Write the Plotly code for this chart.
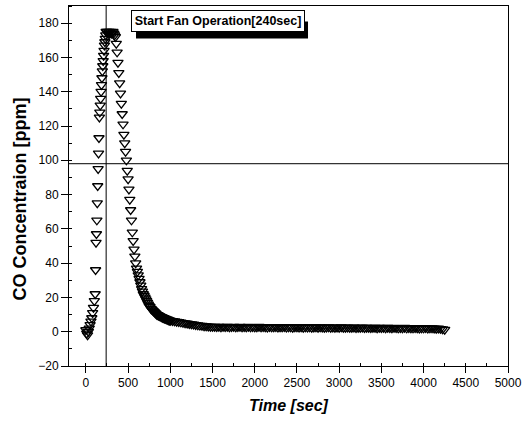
import plotly.graph_objects as go

# Rise phase (before fan operation)
rise_t = [0, 10, 20, 30, 40, 50, 60, 70, 80, 90, 100, 110, 115, 120, 125, 130, 135, 140,
          145, 150, 155, 160, 165, 170, 175, 180, 185, 190, 195, 200, 205, 210, 215, 220,
          225, 230, 235]
rise_v = [1, -1, -2, 0, 2, 4, 6, 8, 11, 14, 18, 22, 36, 52, 57, 65, 75, 85,
          95, 104, 113, 125, 128, 132, 136, 140, 144, 148, 152, 155, 158, 161, 164, 167,
          169, 171, 173]

# Hold at peak after fan start
hold_t = [240, 250, 260, 270, 280, 290, 300, 310, 320, 330]
hold_v = [175, 175, 174, 175, 174, 175, 174, 174, 175, 174]

# Decay phase (10 s steps)
decay_t = [340, 350, 360, 370, 380, 390, 400, 410, 420, 430, 440, 450, 460, 470, 480, 490,
           500, 510, 520, 530, 540, 550, 560, 570, 580, 590, 600, 610, 620, 630, 640, 650,
           660, 670, 680, 690, 700, 710, 720, 730, 740, 750, 760, 770, 780, 790, 800, 810,
           820, 830, 840, 850, 860, 870, 880, 890, 900, 910, 920, 930, 940, 950, 960, 970,
           980, 990, 1000]
decay_v = [173, 172, 168, 163, 157, 151, 145, 139, 133, 127, 121, 115, 110, 105, 100, 94,
           89, 83, 77, 71, 65, 58, 53, 48, 44, 40, 37, 35, 33, 31, 29, 27,
           25, 23.5, 22, 21, 20, 19, 18, 17, 16, 15, 14.5, 13.5, 13, 12.5, 12, 11.5,
           11, 10.5, 10, 9.8, 9.5, 9.2, 9, 8.7, 8.5, 8.2, 8, 7.8, 7.6, 7.4, 7.2, 7,
           6.8, 6.6, 6.5]

# Slow tail (25 s steps)
slow_t = [1025, 1050, 1075, 1100, 1125, 1150, 1175, 1200, 1225, 1250, 1275, 1300, 1325,
          1350, 1375, 1400, 1425, 1450, 1475, 1500]
slow_v = [6.3, 6.1, 5.9, 5.7, 5.5, 5.2, 5.0, 4.8, 4.6, 4.4, 4.2, 4.0, 3.8,
          3.6, 3.5, 3.3, 3.2, 3.1, 3.0, 2.9]

# Steady tail (25 s steps)
tail_t = [1525, 1550, 1575, 1600, 1625, 1650, 1675, 1700, 1725, 1750, 1775, 1800, 1825,
          1850, 1875, 1900, 1925, 1950, 1975, 2000, 2025, 2050, 2075, 2100, 2125, 2150,
          2175, 2200, 2225, 2250, 2275, 2300, 2325, 2350, 2375, 2400, 2425, 2450, 2475,
          2500, 2525, 2550, 2575, 2600, 2625, 2650, 2675, 2700, 2725, 2750, 2775, 2800,
          2825, 2850, 2875, 2900, 2925, 2950, 2975, 3000, 3025, 3050, 3075, 3100, 3125,
          3150, 3175, 3200, 3225, 3250, 3275, 3300, 3325, 3350, 3375, 3400, 3425, 3450,
          3475, 3500, 3525, 3550, 3575, 3600, 3625, 3650, 3675, 3700, 3725, 3750, 3775,
          3800, 3825, 3850, 3875, 3900, 3925, 3950, 3975, 4000, 4025, 4050, 4075, 4100,
          4125, 4150, 4175, 4200, 4225, 4250]
tail_v = [2.9, 2.8, 3.0, 2.7, 2.9, 2.8, 3.0, 2.7, 2.8, 2.9, 2.6, 2.8, 2.9,
          2.7, 2.8, 2.6, 2.9, 2.7, 2.8, 2.6, 2.7, 2.9, 2.6, 2.8, 2.7, 2.5,
          2.8, 2.6, 2.7, 2.8, 2.5, 2.7, 2.6, 2.8, 2.5, 2.7, 2.6, 2.4, 2.7,
          2.6, 2.5, 2.7, 2.4, 2.6, 2.5, 2.7, 2.4, 2.5, 2.6, 2.4, 2.6, 2.5,
          2.3, 2.5, 2.6, 2.4, 2.5, 2.3, 2.5, 2.4, 2.6, 2.3, 2.4, 2.5, 2.3,
          2.4, 2.5, 2.2, 2.4, 2.3, 2.5, 2.2, 2.4, 2.3, 2.2, 2.4, 2.3, 2.1,
          2.3, 2.2, 2.4, 2.1, 2.3, 2.2, 2.1, 2.3, 2.2, 2.0, 2.2, 2.1, 2.3,
          2.0, 2.2, 2.1, 2.0, 2.2, 2.1, 1.9, 2.1, 2.0, 2.2, 1.9, 2.0, 2.1,
          1.9, 1.8, 1.9, 1.7, 1.5, 1.2]

t = rise_t + hold_t + decay_t + slow_t + tail_t
v = rise_v + hold_v + decay_v + slow_v + tail_v

fan_start = 240
ref_level = 98

x_ticks = list(range(0, 5001, 500))
y_ticks = list(range(-20, 181, 20))

fig = go.Figure()
fig.add_trace(go.Scatter(
    x=t, y=v, mode="markers",
    marker=dict(symbol="triangle-down-open", size=9, color="black",
                line=dict(width=1.3, color="black")),
    showlegend=False,
))

fig.add_vline(x=fan_start, line=dict(color="black", width=1))
fig.add_hline(y=ref_level, line=dict(color="black", width=1))

label = "<b>Start Fan Operation[240sec]</b>"
ann_x, ann_y = 1565, 181

# drop shadow of the label box
fig.add_shape(type="rect", xref="x", yref="y", xsizemode="pixel", ysizemode="pixel",
              xanchor=ann_x, yanchor=ann_y, x0=-82, x1=90, y0=-17, y1=0,
              fillcolor="black", line=dict(width=0), layer="above")
fig.add_annotation(x=ann_x, y=ann_y, text=label, showarrow=False,
                   font=dict(family="Liberation Sans", size=12.5, color="black"),
                   width=168, height=16,
                   bgcolor="white", bordercolor="black", borderwidth=1, borderpad=2)

# y-axis title (placed as rotated text, slightly below centre as in the original)
fig.add_annotation(xref="paper", yref="paper", x=-0.112, y=0.465,
                   text="<b>CO Concentraion [ppm]</b>", textangle=-90, showarrow=False,
                   font=dict(family="Liberation Sans", size=18, color="black"),
                   xanchor="center", yanchor="middle")

axis_common = dict(showline=True, mirror=True, linecolor="black", linewidth=1,
                   showgrid=False, zeroline=False,
                   tickfont=dict(family="Liberation Sans", size=12, color="black"),
                   ticks="outside", tickcolor="black")

fig.update_xaxes(range=[-200, 5000], tickvals=x_ticks, ticklen=6,
                 title=dict(text="<b><i>Time [sec]</i></b>", standoff=10,
                            font=dict(family="Liberation Sans", size=16, color="black")),
                 minor=dict(dtick=250, ticks="inside", ticklen=3, tickcolor="black"),
                 **axis_common)
fig.update_yaxes(range=[-20, 190], tickvals=y_ticks, ticklen=7,
                 minor=dict(dtick=10, ticks="inside", ticklen=3, tickcolor="black"),
                 **axis_common)

fig.update_layout(width=532, height=424,
                  margin=dict(l=69, r=24, t=6, b=58),
                  plot_bgcolor="white", paper_bgcolor="white")

fig.write_html("out.html")
